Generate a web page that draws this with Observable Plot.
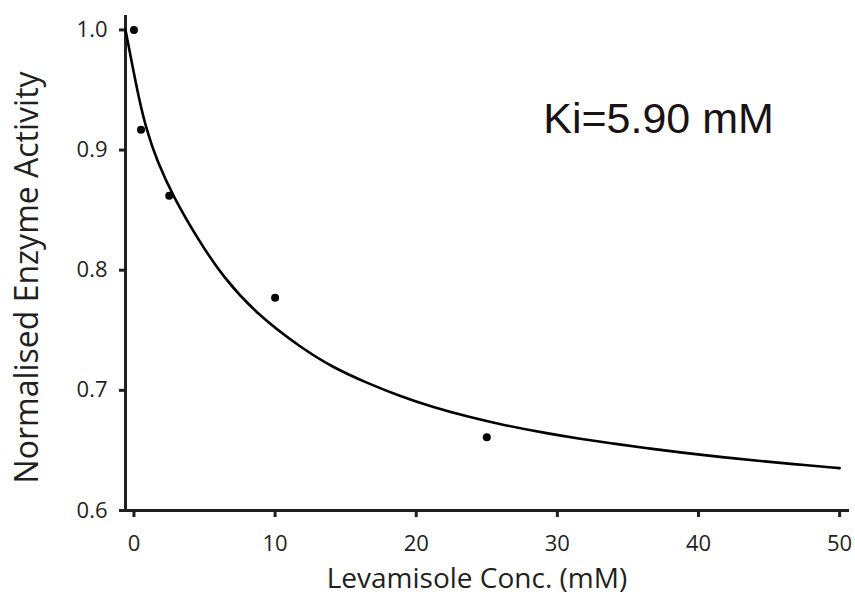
<!DOCTYPE html>
<html>
<head>
<meta charset="utf-8">
<script src="https://cdn.jsdelivr.net/npm/d3@7"></script>
<script src="https://cdn.jsdelivr.net/npm/@observablehq/plot@0.6"></script>
<style>
  html, body { margin: 0; padding: 0; background: #fff; }
</style>
</head>
<body>
<div id="chart"></div>
<script>
// Measured activity at each levamisole concentration
const concentration = [0, 0.5, 2.5, 10, 25];
const activity = [1.0, 0.917, 0.862, 0.777, 0.661];

// Fitted inhibition curve, sampled along its length
const fitX = [-0.6, -0.14, 0.33, 0.88, 1.63, 2.77, 4.59, 6.33, 8.7, 11.8, 14.1, 16.5, 18.9, 21.2, 23.6, 26.0, 29.3, 31.6, 34.0, 36.4, 38.7, 42.0, 44.4, 46.8, 50.0];
const fitY = [1.0, 0.972, 0.944, 0.917, 0.891, 0.8615, 0.8246, 0.794, 0.7635, 0.7357, 0.719, 0.7062, 0.6949, 0.6859, 0.6782, 0.6715, 0.6641, 0.6597, 0.6556, 0.6518, 0.6483, 0.644, 0.6412, 0.6385, 0.6353];

const xTicks = [0, 10, 20, 30, 40, 50];
const yTicks = [0.6, 0.7, 0.8, 0.9, 1.0];

const kiLabel = "Ki=5.90 mM";
const xTitle = "Levamisole Conc. (mM)";
const yTitle = "Normalised Enzyme Activity";

const points = concentration.map((c, i) => ({c, a: activity[i]}));
const fit = fitX.map((x, i) => ({x, y: fitY[i]}));

const ink = "#231f20";
const font = "'Open Sans', 'Noto Sans', sans-serif";

const chart = Plot.plot({
  width: 855,
  height: 596,
  marginLeft: 125,
  marginRight: 6,
  marginTop: 15,
  marginBottom: 86,
  style: {fontFamily: font, fontSize: "22px", color: ink, background: "#fff"},
  x: {domain: [-0.6, 50.7], ticks: xTicks},
  y: {domain: [0.6, 1.012], ticks: yTicks},
  marks: [
    Plot.ruleX([-0.6], {stroke: ink, strokeWidth: 3}),
    Plot.ruleY([0.6], {stroke: ink, strokeWidth: 3}),
    Plot.axisX(xTicks, {tickSize: 7, tickPadding: 18, strokeWidth: 3, stroke: ink, fill: ink, label: null, fontSize: 22}),
    Plot.axisY(yTicks, {tickSize: 6, tickPadding: 12, strokeWidth: 3, stroke: ink, fill: ink, label: null, tickFormat: d3.format(".1f"), fontSize: 22}),
    Plot.line(fit, {x: "x", y: "y", curve: "basis", stroke: "#000", strokeWidth: 2.6}),
    Plot.dot(points, {x: "c", y: "a", r: 4, fill: "#000", stroke: "none"}),
    Plot.text([kiLabel], {x: 29.0, y: 0.914, text: d => d, textAnchor: "start", lineAnchor: "bottom",
      fontFamily: "'Liberation Sans', Arial, sans-serif", fontSize: 43, fill: "#1a1214"}),
    Plot.text([xTitle], {x: 24.3, frameAnchor: "bottom", text: d => d, textAnchor: "middle", lineAnchor: "bottom", dy: 77,
      fontFamily: font, fontSize: 28, fill: ink}),
    Plot.text([yTitle], {y: 0.794, frameAnchor: "left", text: d => d, textAnchor: "middle", rotate: -90, dx: -98,
      fontFamily: font, fontSize: 32, fill: ink})
  ]
});

document.getElementById("chart").appendChild(chart);
</script>
</body>
</html>
